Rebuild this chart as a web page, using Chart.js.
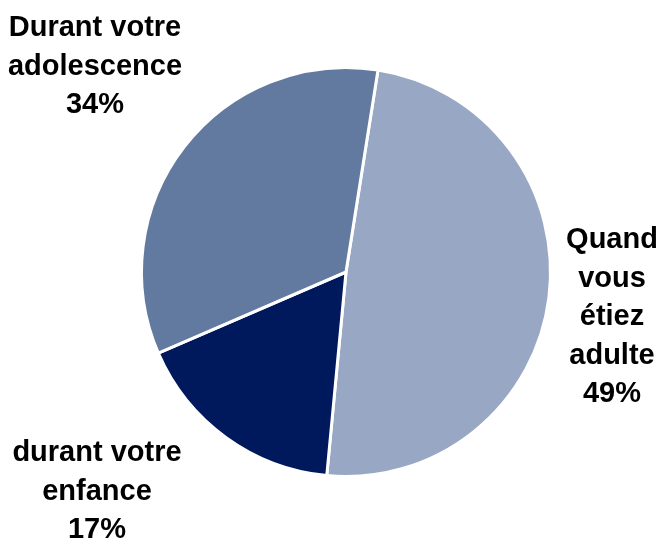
<!DOCTYPE html>
<html>
<head>
<meta charset="utf-8">
<script src="https://cdn.jsdelivr.net/npm/chart.js@4/dist/chart.umd.min.js"></script>
<style>
  html, body { margin: 0; padding: 0; background: #ffffff; }
  #wrap { width: 660px; height: 544px; position: relative; }
</style>
</head>
<body>
<div id="wrap"><canvas id="pie"></canvas></div>
<script>
// slice data, clockwise from the top
const categories = [
    ['Quand', 'vous', 'étiez', 'adulte'],
    ['durant votre', 'enfance'],
    ['Durant votre', 'adolescence']
];
const shares = [49, 17, 34];
const sliceColors = ['#98a8c4', '#00195c', '#627a9f'];

// where each label block is centred (x, y of first line) and line step
const labelSpots = [
    { x: 612, y: 240, step: 38.5 },
    { x: 97, y: 453, step: 38.5 },
    { x: 95, y: 28, step: 38.5 }
];

const outsideLabels = {
    id: 'outsideLabels',
    afterDraw(chart) {
        const ctx = chart.ctx;
        ctx.save();
        ctx.fillStyle = '#000000';
        ctx.font = 'bold 29px "Liberation Sans", Arial, sans-serif';
        ctx.textAlign = 'center';
        ctx.textBaseline = 'middle';
        categories.forEach((lines, i) => {
            const spot = labelSpots[i];
            const all = lines.concat([shares[i] + '%']);
            all.forEach((t, j) => ctx.fillText(t, spot.x, spot.y + j * spot.step));
        });
        ctx.restore();
    }
};

new Chart(document.getElementById('pie'), {
    type: 'pie',
    data: {
        labels: categories.map(c => c.join(' ')),
        datasets: [{
            data: shares,
            backgroundColor: sliceColors,
            borderColor: '#ffffff',
            borderWidth: 3
        }]
    },
    options: {
        responsive: true,
        maintainAspectRatio: false,
        animation: false,
        rotation: 9,
        layout: { padding: { left: 140, right: 108, top: 66, bottom: 66 } },
        plugins: {
            legend: { display: false },
            tooltip: { enabled: false }
        }
    },
    plugins: [outsideLabels]
});
</script>
</body>
</html>
